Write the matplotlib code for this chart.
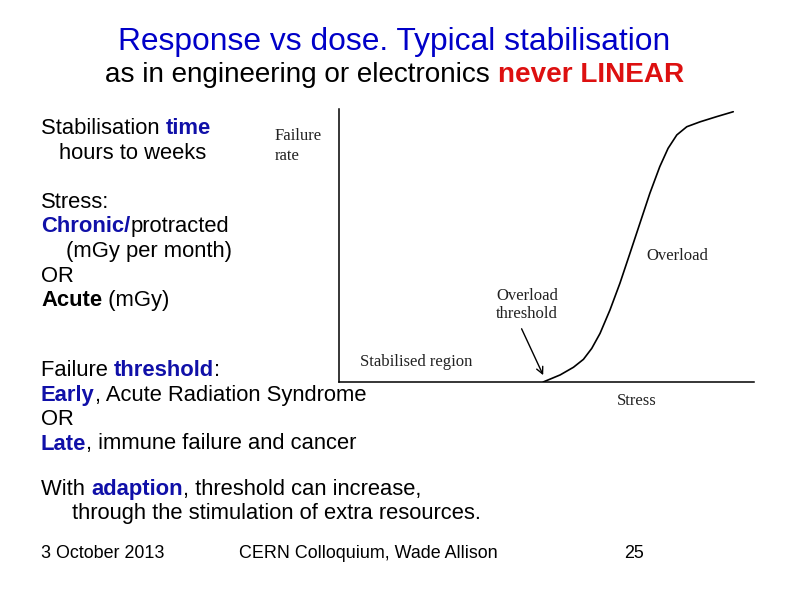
import matplotlib
matplotlib.use("Agg")
import matplotlib.pyplot as plt

# ---- data ----
stress = [49.2, 53.3, 56.5, 58.9, 60.9, 62.9, 65.3, 67.7, 70.1, 72.5, 74.9, 77.3,
          79.3, 81.4, 83.8, 87.0, 91.0, 95.0]
failure_rate = [0.0, 2.6, 5.4, 8.3, 12.3, 17.8, 26.4, 36.2, 47.1, 58.1, 69.1, 78.9,
                85.6, 90.5, 93.5, 95.3, 97.2, 99.0]
threshold_x = 49.2
threshold_label_xy = (44.0, 19.5)

W, H = 794, 595
fig = plt.figure(figsize=(W / 100, H / 100), dpi=100)
fig.patch.set_facecolor("white")

BLUE = "#0000C8"
DBLUE = "#1010A8"
RED = "#DD1010"
SANS = ["Liberation Sans", "DejaVu Sans"]
SERIF = ["Liberation Serif", "DejaVu Serif"]


def fx(px):
    return px / W


def fy(py):
    return 1 - py / H


renderer = fig.canvas.get_renderer()


def rich(x, y, parts, size, ha="left"):
    """parts: list of (text, color, weight). x,y in pixels (baseline)."""
    texts = []
    for s, c, w in parts:
        t = fig.text(0, fy(y), s, color=c, fontweight=w, fontsize=size,
                     family=SANS, va="baseline", ha="left")
        texts.append(t)
    widths = [t.get_window_extent(renderer).width for t in texts]
    total = sum(widths)
    cur = x - total / 2 if ha == "center" else x
    for t, wd in zip(texts, widths):
        t.set_x(fx(cur))
        cur += wd


# ---- title ----
rich(394.5, 50, [("Response vs dose. Typical stabilisation", BLUE, "normal")], 22.9, ha="center")
rich(394.5, 82, [("as in engineering or electronics ", "black", "normal"),
                 ("never LINEAR", RED, "bold")], 20.1, ha="center")

# ---- left text ----
LS = 15.8
K = "black"
rich(41, 134.5, [("Stabilisation ", K, "normal"), ("time", DBLUE, "bold")], LS)
rich(59, 159.5, [("hours to weeks", K, "normal")], LS)
rich(41, 208, [("Stress:", K, "normal")], LS)
rich(41, 232.5, [("Chronic/", DBLUE, "bold"), ("protracted", K, "normal")], LS)
rich(66, 257.5, [("(mGy per month)", K, "normal")], LS)
rich(41, 282, [("OR", K, "normal")], LS)
rich(41, 306.5, [("Acute", K, "bold"), (" (mGy)", K, "normal")], LS)
rich(41, 375.5, [("Failure ", K, "normal"), ("threshold", DBLUE, "bold"), (":", K, "normal")], LS)
rich(41, 400.5, [("Early", DBLUE, "bold"), (", Acute Radiation Syndrome", K, "normal")], LS)
rich(41, 425, [("OR", K, "normal")], LS)
rich(41, 449.5, [("Late", DBLUE, "bold"), (", immune failure and cancer", K, "normal")], LS)
rich(41, 495, [("With ", K, "normal"), ("adaption", DBLUE, "bold"),
               (", threshold can increase,", K, "normal")], LS)
rich(72, 518.5, [("through the stimulation of extra resources.", K, "normal")], LS)

# ---- footer ----
FS = 12.9
rich(41, 558, [("3 October 2013", K, "normal")], FS)
rich(239, 558, [("CERN Colloquium, Wade Allison", K, "normal")], FS)
rich(624, 558, [("25", K, "normal")], FS)

# ---- chart ----
ax = fig.add_axes([fx(339), fy(382), (754 - 339) / W, (382 - 109) / H])
ax.set_xlim(0, 100)
ax.set_ylim(0, 100)
ax.plot(stress, failure_rate, color="black", lw=1.2, solid_capstyle="round",
        solid_joinstyle="round")
for s in ["top", "right"]:
    ax.spines[s].set_visible(False)
for s in ["left", "bottom"]:
    ax.spines[s].set_linewidth(1.1)
    ax.spines[s].set_color("black")
ax.set_xticks([])
ax.set_yticks([])
ax.patch.set_alpha(0)

ax.annotate("", xy=(threshold_x, 2.5), xytext=threshold_label_xy,
            arrowprops=dict(arrowstyle="->", color="black", lw=1.0,
                            mutation_scale=12, shrinkA=0, shrinkB=0))

TC = "#222222"
ser = dict(family=SERIF, fontsize=12, color=TC, va="baseline", ha="left")
fig.text(fx(275), fy(140), "Failure", **ser)
fig.text(fx(275), fy(160), "rate", **ser)
fig.text(fx(646.7), fy(260), "Overload", **ser)
fig.text(fx(496), fy(300), "Overload", **ser)
fig.text(fx(496), fy(318.5), "threshold", **ser)
fig.text(fx(359.5), fy(365.5), "Stabilised region", **ser)
fig.text(fx(616.5), fy(405), "Stress", **ser)

fig.savefig("out.png", dpi=100, facecolor="white")
